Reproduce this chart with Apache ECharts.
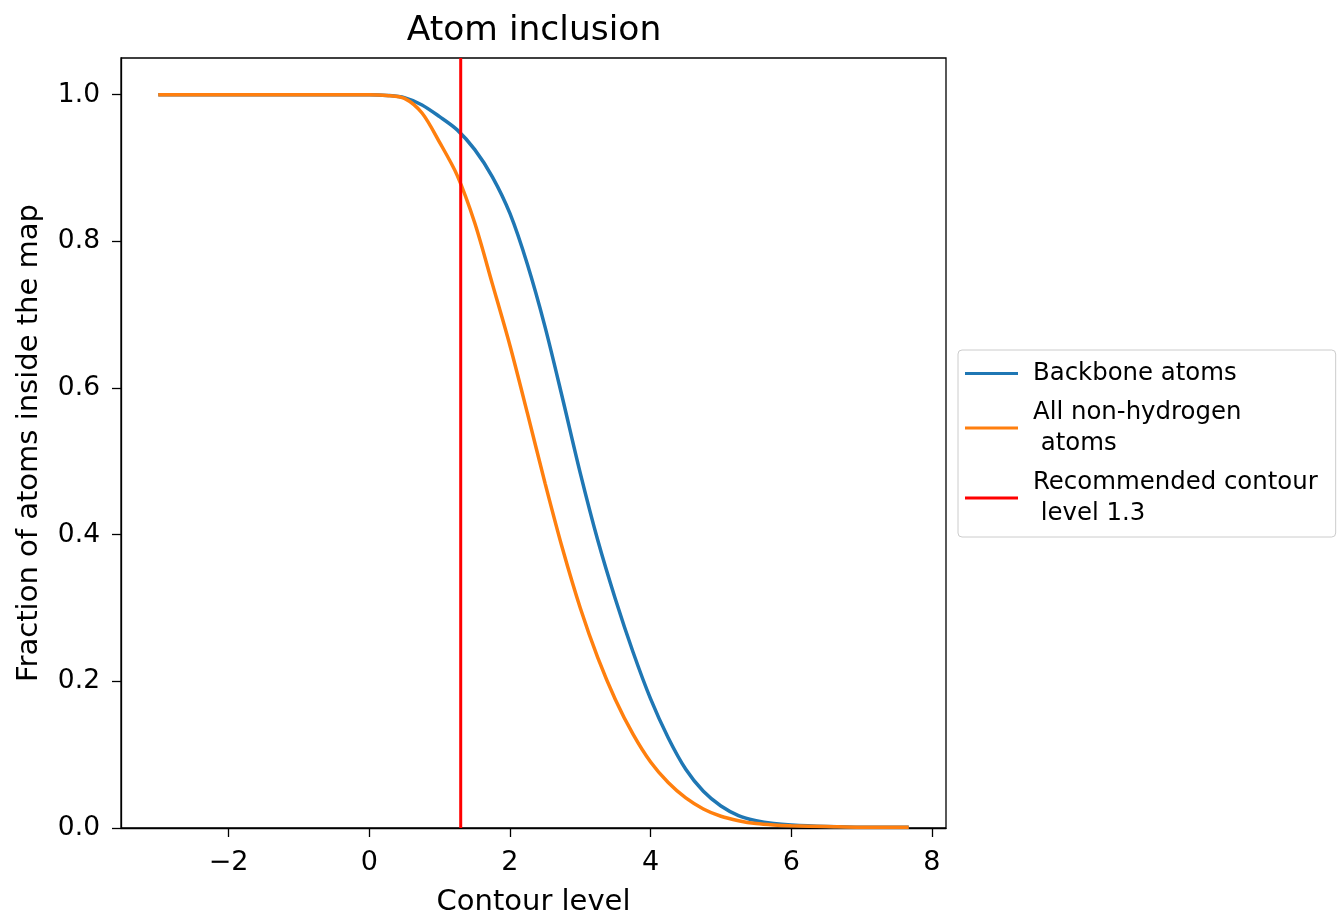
<!DOCTYPE html>
<html>
<head>
<meta charset="utf-8">
<title>Atom inclusion</title>
<script src="https://cdn.jsdelivr.net/npm/echarts@6/dist/echarts.min.js"></script>
<style>
    html, body { margin: 0; padding: 0; background: #fff; }
    #main { width: 1338px; height: 916px; }
</style>
</head>
<body>
<div id="main"></div>
<script>
// contour levels (x) and fraction of atoms inside the map
var levels = [-3, -2, -1, 0, 0.25, 0.5, 0.75, 1.0, 1.25, 1.5, 1.75, 2.0, 2.25, 2.5, 2.75, 3.0,
    3.25, 3.5, 3.75, 4.0, 4.25, 4.5, 4.75, 5.0, 5.25, 5.5, 5.75, 6.0, 6.5, 7.0, 7.67];
var backbone = [1, 1, 1, 1.0, 0.999, 0.996, 0.986, 0.970, 0.952, 0.925, 0.888, 0.838, 0.768, 0.683, 0.585, 0.484,
    0.392, 0.312, 0.24, 0.176, 0.123, 0.080, 0.050, 0.030, 0.017, 0.010, 0.006, 0.004, 0.002, 0.001, 0.001];
var allAtoms = [1, 1, 1, 1.0, 0.999, 0.995, 0.975, 0.935, 0.89, 0.825, 0.742, 0.658, 0.565, 0.47, 0.38, 0.30,
    0.232, 0.175, 0.128, 0.09, 0.062, 0.041, 0.026, 0.016, 0.010, 0.006, 0.004, 0.003, 0.002, 0.001, 0.001];
var recommended = 1.3;
var xTicks = [-2, 0, 2, 4, 6, 8];
var yTicks = [0, 0.2, 0.4, 0.6, 0.8, 1.0];

function pairs(xs, ys) {
    var out = [];
    for (var i = 0; i < xs.length; i++) {
        out.push([xs[i], ys[i]]);
    }
    return out;
}

var font = 'DejaVu Sans';
var myChart = echarts.init(document.getElementById('main'));
var option = {
    animation: false,
    backgroundColor: '#fff',
    title: {
        text: 'Atom inclusion',
        left: 529,
        top: 9,
        textAlign: 'center',
        textStyle: { fontFamily: font, fontSize: 34.5, fontWeight: 'normal', color: '#000' }
    },
    legend: {
        orient: 'vertical',
        left: 958,
        top: 350,
        padding: [8, 18, 8, 7],
        itemGap: 8,
        itemWidth: 53,
        itemHeight: 3,
        icon: 'rect',
        borderColor: '#cccccc',
        borderWidth: 1,
        borderRadius: 4,
        backgroundColor: '#fff',
        data: ['Backbone atoms', 'All non-hydrogen\n atoms', 'Recommended contour\n level 1.3'],
        textStyle: { fontFamily: font, fontSize: 24.4, color: '#000', lineHeight: 31, padding: [0, 0, 0, 10] }
    },
    grid: {
        left: 121,
        right: 392,
        top: 58,
        bottom: 88,
        outerBoundsMode: 'none',
        show: true,
        borderColor: '#000',
        borderWidth: 1.3
    },
    xAxis: {
        type: 'value',
        min: -3.53,
        max: 8.2,
        name: 'Contour level',
        nameLocation: 'middle',
        nameGap: 60,
        nameTextStyle: { fontFamily: font, fontSize: 29, color: '#000' },
        splitLine: { show: false },
        axisLine: { show: true, onZero: false, lineStyle: { color: '#000', width: 1.3 } },
        axisTick: { show: true, length: 9, customValues: xTicks, lineStyle: { color: '#000', width: 1.3 } },
        axisLabel: {
            customValues: xTicks,
            margin: 21,
            fontFamily: font,
            fontSize: 27,
            color: '#000',
            formatter: function (v) { return String(v).replace('-', '\u2212'); }
        }
    },
    yAxis: {
        type: 'value',
        min: 0,
        max: 1.05,
        name: 'Fraction of atoms inside the map',
        nameLocation: 'middle',
        nameGap: 77,
        nameTextStyle: { fontFamily: font, fontSize: 29, color: '#000' },
        splitLine: { show: false },
        axisLine: { show: true, onZero: false, lineStyle: { color: '#000', width: 1.3 } },
        axisTick: { show: true, length: 9, customValues: yTicks, lineStyle: { color: '#000', width: 1.3 } },
        axisLabel: {
            customValues: yTicks,
            margin: 21,
            fontFamily: font,
            fontSize: 26.5,
            color: '#000',
            formatter: function (v) { return v.toFixed(1); }
        }
    },
    series: [
        {
            name: 'Backbone atoms',
            type: 'line',
            data: pairs(levels, backbone),
            symbol: 'none',
            smooth: 0.3,
            color: '#1f77b4',
            lineStyle: { color: '#1f77b4', width: 3.5 }
        },
        {
            name: 'All non-hydrogen\n atoms',
            type: 'line',
            data: pairs(levels, allAtoms),
            symbol: 'none',
            smooth: 0.3,
            color: '#ff7f0e',
            lineStyle: { color: '#ff7f0e', width: 3.5 }
        },
        {
            name: 'Recommended contour\n level 1.3',
            type: 'line',
            data: [[recommended, 0], [recommended, 1.05]],
            symbol: 'none',
            color: '#ff0000',
            lineStyle: { color: '#ff0000', width: 3 }
        }
    ]
};
myChart.setOption(option);
</script>
</body>
</html>
